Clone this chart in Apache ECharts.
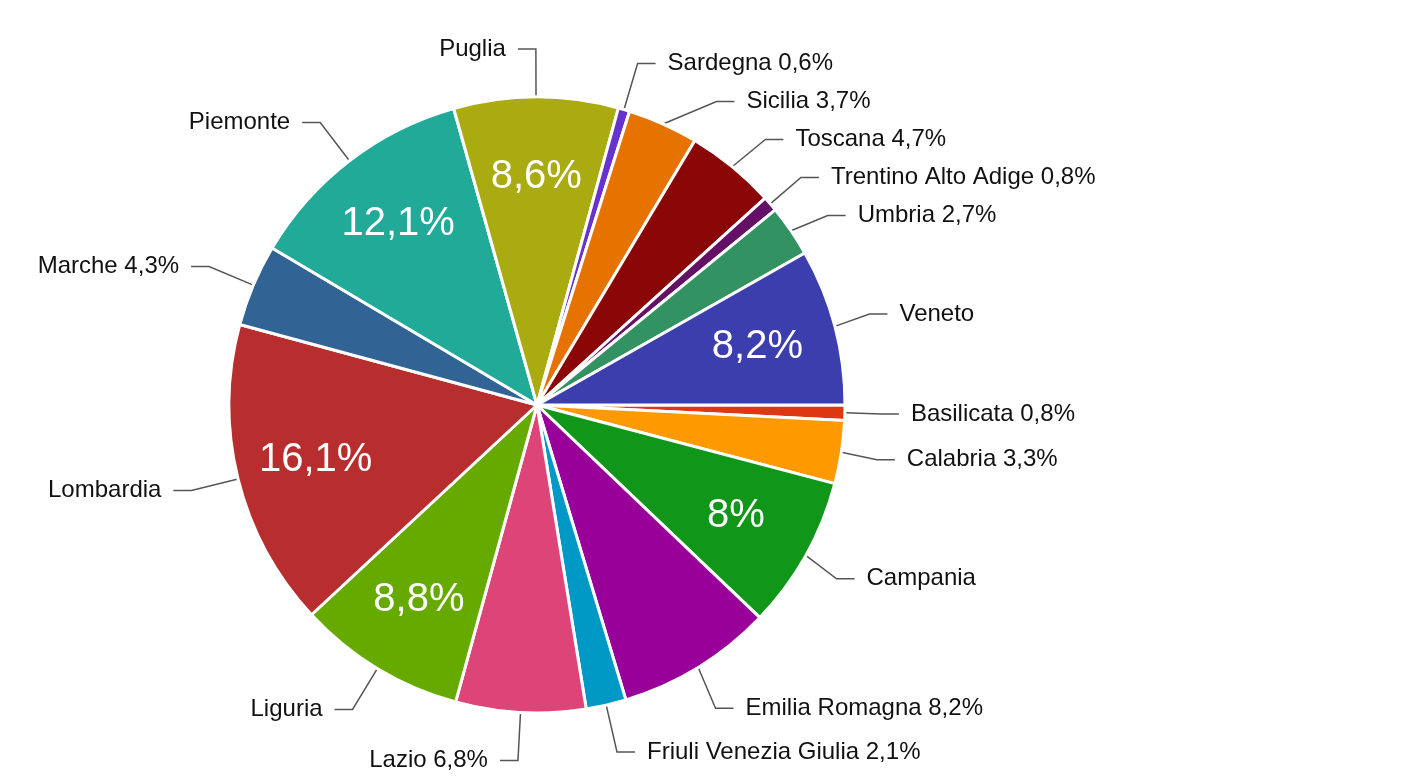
<!DOCTYPE html>
<html>
<head>
<meta charset="utf-8">
<script src="https://cdn.jsdelivr.net/npm/echarts@6/dist/echarts.min.js"></script>
<style>
  html, body { margin: 0; padding: 0; background: #fff; }
  #pie { width: 1403px; height: 780px; }
</style>
</head>
<body>
<div id="pie"></div>
<script>
// regioni, in ordine orario partendo dalle ore 3
var regioni = ['Basilicata', 'Calabria', 'Campania', 'Emilia Romagna', 'Friuli Venezia Giulia',
    'Lazio', 'Liguria', 'Lombardia', 'Marche', 'Piemonte', 'Puglia', 'Sardegna', 'Sicilia',
    'Toscana', 'Trentino Alto Adige', 'Umbria', 'Veneto'];
var percentuali = [0.8, 3.3, 8, 8.2, 2.1, 6.8, 8.8, 16.1, 4.3, 12.1, 8.6, 0.6, 3.7, 4.7, 0.8, 2.7, 8.2];
var colori = ['#dc3912', '#ff9900', '#109618', '#990099', '#0099c6', '#dd4477', '#66aa00',
    '#b82e2e', '#316395', '#22aa99', '#aaaa11', '#6633cc', '#e67300', '#8b0707', '#651067',
    '#329262', '#3b3eac'];
// fette con la percentuale scritta dentro
var etichetteInterne = ['Campania', 'Liguria', 'Lombardia', 'Piemonte', 'Puglia', 'Veneto'];

function fmt(v) {
    return String(v).replace('.', ',') + '%';
}

var dati = regioni.map(function (r, i) {
    return { name: r, value: percentuali[i], itemStyle: { color: colori[i] } };
});

var pie_chart = echarts.init(document.querySelector('#pie'));
var option = {
    animation: false,
    textStyle: { fontFamily: 'Liberation Sans, Arial, sans-serif' },
    series: [
        {
            type: 'pie',
            center: [537, 405],
            radius: 308,
            startAngle: 0,
            clockwise: true,
            avoidLabelOverlap: true,
            itemStyle: { borderColor: '#fff', borderWidth: 3 },
            label: {
                show: true,
                position: 'outside',
                color: '#111',
                fontSize: 24,
                lineHeight: 36,
                distanceToLabelLine: 12,
                formatter: function (p) {
                    if (etichetteInterne.indexOf(p.name) >= 0) return p.name;
                    return p.name + ' ' + fmt(p.value);
                }
            },
            labelLine: {
                show: true,
                length: 48,
                length2: 18,
                lineStyle: { color: '#555', width: 1.5 }
            },
            emphasis: { disabled: true },
            data: dati
        },
        {
            // solo per le percentuali interne, spostate verso il bordo
            type: 'pie',
            silent: true,
            center: [537, 405],
            radius: [142, 308],
            startAngle: 0,
            clockwise: true,
            avoidLabelOverlap: false,
            itemStyle: { color: 'rgba(0,0,0,0)', borderWidth: 0 },
            label: {
                show: true,
                position: 'inside',
                color: '#fff',
                fontSize: 40,
                formatter: function (p) {
                    return etichetteInterne.indexOf(p.name) >= 0 ? fmt(p.value) : '';
                }
            },
            labelLine: { show: false },
            emphasis: { disabled: true },
            data: regioni.map(function (r, i) { return { name: r, value: percentuali[i] }; })
        }
    ]
};
pie_chart.setOption(option);
</script>
</body>
</html>
